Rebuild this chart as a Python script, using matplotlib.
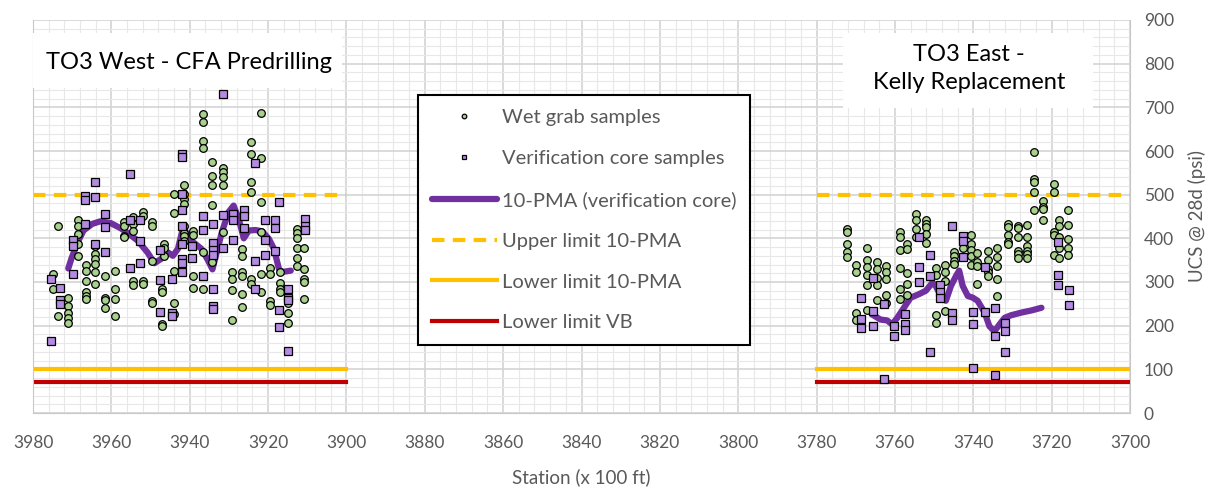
import matplotlib.pyplot as plt
import matplotlib.ticker as ticker
from matplotlib.patches import Rectangle

plt.rcParams['font.family'] = ['Lato', 'DejaVu Sans']

# Datos: estación (x 100 ft) -> valores UCS (psi)
wet_west = [
    (3975.0, [318, 283]), (3973.5, [429, 222]),
    (3971.0, [264, 245, 230, 218, 207]), (3968.6, [442, 429, 410, 387, 360]),
    (3966.4, [339, 326, 303, 276, 268, 260]), (3964.1, [383, 364, 353, 341, 322, 295]),
    (3961.7, [313, 263, 258, 241]), (3959.1, [326, 285, 260, 222]),
    (3956.8, [437, 429, 406, 402]), (3954.4, [449, 433, 416, 303, 293]),
    (3951.9, [460, 452, 303, 295]), (3949.5, [437, 429, 349, 257, 253]),
    (3947.1, [283, 276, 203, 199]), (3946.5, [386, 379, 360]),
    (3944.1, [502, 458, 326, 253, 226]), (3941.5, [521, 502, 491, 479, 429, 412, 406, 395]),
    (3939.1, [416, 408, 314, 287]), (3936.7, [684, 666, 623, 608, 368, 285]),
    (3934.2, [575, 543, 521, 477, 345]), (3931.6, [560, 551, 541, 523, 414]),
    (3929.2, [322, 306, 282, 214]), (3926.7, [376, 360, 322, 314, 273, 243]),
    (3924.3, [621, 594, 529, 506, 308, 295]), (3921.8, [687, 583, 483, 414, 318, 276]),
    (3919.4, [333, 318, 257, 247]), (3916.9, [322, 297, 283, 276]),
    (3914.8, [253, 230, 207]), (3912.5, [422, 412, 400, 379, 356, 337]),
    (3910.8, [377, 329, 306, 299, 260]),
]
wet_east = [
    (3772.3, [422, 414, 387, 369, 358]), (3769.9, [339, 322, 230, 214]),
    (3767.1, [379, 350, 335, 316, 294, 235]), (3764.7, [345, 330, 309, 294, 259]),
    (3762.3, [337, 322, 306, 270, 253]), (3758.6, [414, 404, 374, 332, 283, 260]),
    (3756.9, [387, 376, 320, 295, 270]), (3754.5, [456, 443, 422, 402]),
    (3752.1, [443, 433, 425, 410, 389]), (3749.6, [333, 316, 225, 207]),
    (3747.3, [339, 322, 303, 233]), (3744.9, [369, 360, 349, 341]),
    (3742.7, [400, 377]), (3740.6, [408, 387, 374, 360, 339]),
    (3739.0, [366, 346, 337, 296]), (3736.3, [372, 350, 329, 322, 314]),
    (3733.9, [378, 358, 337, 306, 269]), (3731.1, [433, 425, 408, 391, 387]),
    (3728.7, [429, 424, 404, 372, 364, 356]), (3726.3, [431, 404, 383, 372, 364, 356]),
    (3724.5, [597, 537, 529, 506, 464]), (3722.1, [485, 472, 468, 443]),
    (3719.4, [525, 506, 415, 408, 362]), (3718.1, [443, 429, 404, 377, 356]),
    (3715.7, [464, 431, 398, 377, 362]),
]
core_west = [
    (3975.3, [306, 166]), (3973.1, [287, 259, 249]), (3969.8, [396, 383, 318]),
    (3966.8, [498, 487, 432]), (3964.3, [529, 495, 386]), (3961.7, [456, 427, 368]),
    (3955.2, [548, 443, 332]), (3952.8, [443, 393, 343]), (3947.7, [374, 304, 231]),
    (3944.6, [306, 230, 222]), (3941.9, [592, 587, 502, 465, 428, 386, 353, 343, 323]),
    (3939.5, [383, 355]), (3936.5, [452, 420, 314]),
    (3934.1, [432, 389, 374, 362, 285, 245, 239]), (3931.4, [730, 453, 378]),
    (3929.0, [456, 441, 396]), (3926.2, [464, 451, 424]), (3923.4, [573, 348, 283]),
    (3920.9, [443, 396, 362]), (3918.2, [442, 424, 372]), (3917.1, [483, 237, 198]),
    (3914.9, [285, 264, 258, 141]), (3910.7, [445, 429, 418]),
]
core_east = [
    (3768.7, [264, 216, 195]), (3765.6, [310, 233, 200]), (3762.9, [249, 78]),
    (3760.3, [199, 176]), (3757.5, [226, 203, 191]), (3753.9, [402, 335, 300]),
    (3751.1, [362, 314, 139]), (3748.5, [292, 278, 264]), (3745.5, [429, 230, 214]),
    (3742.7, [405, 395, 358]), (3740.0, [231, 203, 103]), (3737.1, [335, 231]),
    (3734.4, [241, 176, 86]), (3731.8, [207, 187, 139]), (3718.5, [392, 317, 294]),
    (3715.5, [281, 247]),
]

# Promedio móvil de 10 puntos (núcleos de verificación)
pma_west_x = [3971.0, 3970.1, 3968.6, 3967.1, 3964.9, 3962.8, 3960.2, 3957.6, 3955.5,
              3953.3, 3950.8, 3949.0, 3947.3, 3945.6, 3944.3, 3943.0, 3941.7, 3940.4,
              3939.1, 3937.0, 3935.3, 3934.2, 3933.1, 3931.8, 3930.1, 3928.8, 3927.5,
              3926.2, 3924.9, 3923.2, 3921.5, 3919.8, 3918.5, 3917.2, 3916.3, 3914.2]
pma_west_y = [331, 356, 391, 418, 433, 439, 435, 423, 410, 395, 368, 343, 353, 368, 360,
              376, 425, 406, 391, 376, 349, 329, 368, 414, 460, 475, 445, 400, 418, 419,
              416, 399, 376, 329, 323, 326]
pma_east_x = [3765.9, 3763.7, 3762.0, 3760.7, 3759.4, 3757.7, 3756.0, 3753.9, 3752.1,
              3750.4, 3749.6, 3748.3, 3747.0, 3745.7, 3744.4, 3743.6, 3742.7, 3741.4,
              3740.1, 3738.9, 3737.1, 3735.9, 3734.6, 3733.3, 3732.0, 3730.3, 3727.7,
              3725.1, 3722.6]
pma_east_y = [226, 214, 212, 203, 218, 241, 264, 272, 280, 299, 291, 268, 257, 291, 314,
              326, 291, 268, 264, 257, 230, 199, 187, 203, 218, 224, 230, 235, 241]

# Límites y tramos
tramos = [(3980, 3900), (3780, 3700)]
limite_superior = 500
limite_inferior = 100
limite_vb = 72


def aplanar(grupos):
    xs, ys = [], []
    for est, vals in grupos:
        for v in vals:
            xs.append(est)
            ys.append(v)
    return xs, ys


fig = plt.figure(figsize=(12.13, 4.92), dpi=100)
ax = fig.add_axes([33 / 1213, 1 - 413 / 492, 1097 / 1213, 393 / 492])

gris_texto = '#595959'

# Puntos
wx, wy = aplanar(wet_west + wet_east)
cx, cy = aplanar(core_west + core_east)
ax.plot(wx, wy, 'o', ms=5.5, mfc='#A9D18E', mec='black', mew=0.9,
        label='Wet grab samples', zorder=4)
ax.plot(cx, cy, 's', ms=5.5, mfc='#B38BE0', mec='black', mew=0.9,
        label='Verification core samples', zorder=5)

# Promedio móvil
ax.plot(pma_west_x, pma_west_y, color='#7030A0', lw=4.5, solid_capstyle='round',
        label='10-PMA (verification core)', zorder=3)
ax.plot(pma_east_x, pma_east_y, color='#7030A0', lw=4.5, solid_capstyle='round', zorder=3)

# Líneas de límite
for i, (a, b) in enumerate(tramos):
    ax.plot([a, b], [limite_superior] * 2, color='#FFC000', lw=3, ls=(0, (3, 2)),
            label='Upper limit 10-PMA' if i == 0 else None, zorder=2)
    ax.plot([a, b], [limite_inferior] * 2, color='#FFC000', lw=3,
            label='Lower limit 10-PMA' if i == 0 else None, zorder=2)
    ax.plot([a, b], [limite_vb] * 2, color='#C00000', lw=3,
            label='Lower limit VB' if i == 0 else None, zorder=2)

# Ejes
ax.set_xlim(3980, 3700)
ax.set_ylim(0, 900)
ax.xaxis.set_major_locator(ticker.MultipleLocator(20))
ax.xaxis.set_minor_locator(ticker.MultipleLocator(4))
ax.yaxis.set_major_locator(ticker.MultipleLocator(100))
ax.yaxis.set_minor_locator(ticker.MultipleLocator(20))
ax.yaxis.tick_right()
ax.yaxis.set_label_position('right')
ax.grid(which='major', color='#D4D4D4', lw=1.2, zorder=0)
ax.grid(which='minor', color='#E8E8E8', lw=0.8, zorder=0)
ax.set_axisbelow(True)
ax.tick_params(which='both', length=0, labelsize=12.5, labelcolor=gris_texto)
ax.tick_params(axis='x', pad=15.5)
ax.tick_params(axis='y', pad=10)
for s in ax.spines.values():
    s.set_color('#C8C8C8')
ax.spines['top'].set_visible(False)

ax.set_xlabel('Station (x 100 ft)', fontsize=13.5, color=gris_texto, labelpad=12.5)
ax.set_ylabel('UCS @ 28d (psi)', fontsize=13.5, color=gris_texto, labelpad=10)

# Títulos de tramo sobre fondo blanco
ax.add_patch(Rectangle((0.0, 0.827), 0.2817, 0.14, transform=ax.transAxes,
                       facecolor='white', edgecolor='none', zorder=6))
ax.add_patch(Rectangle((0.738, 0.776), 0.228, 0.191, transform=ax.transAxes,
                       facecolor='white', edgecolor='none', zorder=6))
ax.text(0.1418, 0.893, 'TO3 West - CFA Predrilling', transform=ax.transAxes,
        ha='center', va='center', fontsize=17, color='black', zorder=7)
ax.text(0.853, 0.8766, 'TO3 East -\nKelly Replacement', transform=ax.transAxes,
        ha='center', va='center', fontsize=17, color='black', zorder=7,
        linespacing=1.4)

leg = ax.legend(loc='upper left', bbox_to_anchor=(0.351, 0.809), fontsize=14.5,
                frameon=True, fancybox=False, framealpha=1, edgecolor='black',
                handlelength=3.2, handletextpad=0.25, labelspacing=1.18,
                borderpad=0.7, markerscale=0.6, borderaxespad=0)
leg.get_frame().set_linewidth(1.5)
leg.set_zorder(8)
for t in leg.get_texts():
    t.set_color(gris_texto)

plt.savefig('out.png', dpi=100)
